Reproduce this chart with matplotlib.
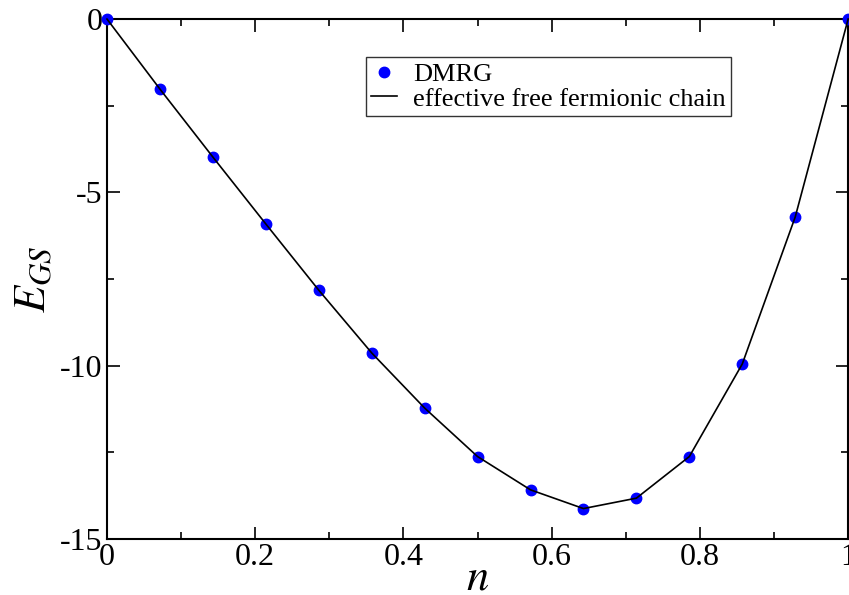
import numpy as np
import matplotlib
matplotlib.use("Agg")
import matplotlib.pyplot as plt
from matplotlib.ticker import MultipleLocator

plt.rcParams['font.family'] = ['Liberation Serif', 'DejaVu Serif']
plt.rcParams['mathtext.fontset'] = 'stix'

# filling n = k/14
n_vals = [i / 14 for i in range(15)]
e_dmrg = [0.0, -2.02, -3.98, -5.91, -7.82, -9.63, -11.22, -12.62,
          -13.58, -14.12, -13.82, -12.62, -9.95, -5.71, 0.0]
e_free = [0.0, -2.02, -3.98, -5.91, -7.82, -9.63, -11.22, -12.62,
          -13.58, -14.12, -13.82, -12.62, -9.95, -5.71, 0.0]

fig = plt.figure(figsize=(8.49, 5.95), dpi=100)
ax = fig.add_axes([0.126, 0.094, 0.873, 0.874])

ax.plot(n_vals, e_dmrg, 'o', color='#0000ff', markersize=7.5, label='DMRG',
        clip_on=False, zorder=3)
ax.plot(n_vals, e_free, '-', color='black', lw=1.2,
        label='effective free fermionic chain', clip_on=False, zorder=4)

ax.set_xlim(0, 1)
ax.set_ylim(-15, 0)
ax.xaxis.set_major_locator(MultipleLocator(0.2))
ax.xaxis.set_minor_locator(MultipleLocator(0.1))
ax.yaxis.set_major_locator(MultipleLocator(5))
ax.yaxis.set_minor_locator(MultipleLocator(2.5))
ax.set_xticks([0, 0.2, 0.4, 0.6, 0.8, 1.0])
ax.set_xticklabels(['0', '0.2', '0.4', '0.6', '0.8', '1'])
ax.set_yticks([0, -5, -10, -15])
ax.set_yticklabels(['0', '-5', '-10', '-15'])
ax.tick_params(which='both', direction='in', top=True, right=True, width=1.2)
ax.tick_params(which='major', length=9, labelsize=23, pad=3)
ax.tick_params(which='minor', length=5)
for s in ax.spines.values():
    s.set_linewidth(1.5)

ax.set_xlabel(r'$n$', fontsize=32, labelpad=-10)
ax.set_ylabel(r'$E_{GS}$', fontsize=32, labelpad=4)

leg = ax.legend(loc='upper left', bbox_to_anchor=(0.349, 0.927), fontsize=19,
                frameon=True, fancybox=False, edgecolor='black',
                handlelength=1.0, handletextpad=0.6, borderpad=0.2,
                labelspacing=0.05, borderaxespad=0)
leg.get_frame().set_linewidth(1.0)

fig.savefig('out.png', dpi=100)
